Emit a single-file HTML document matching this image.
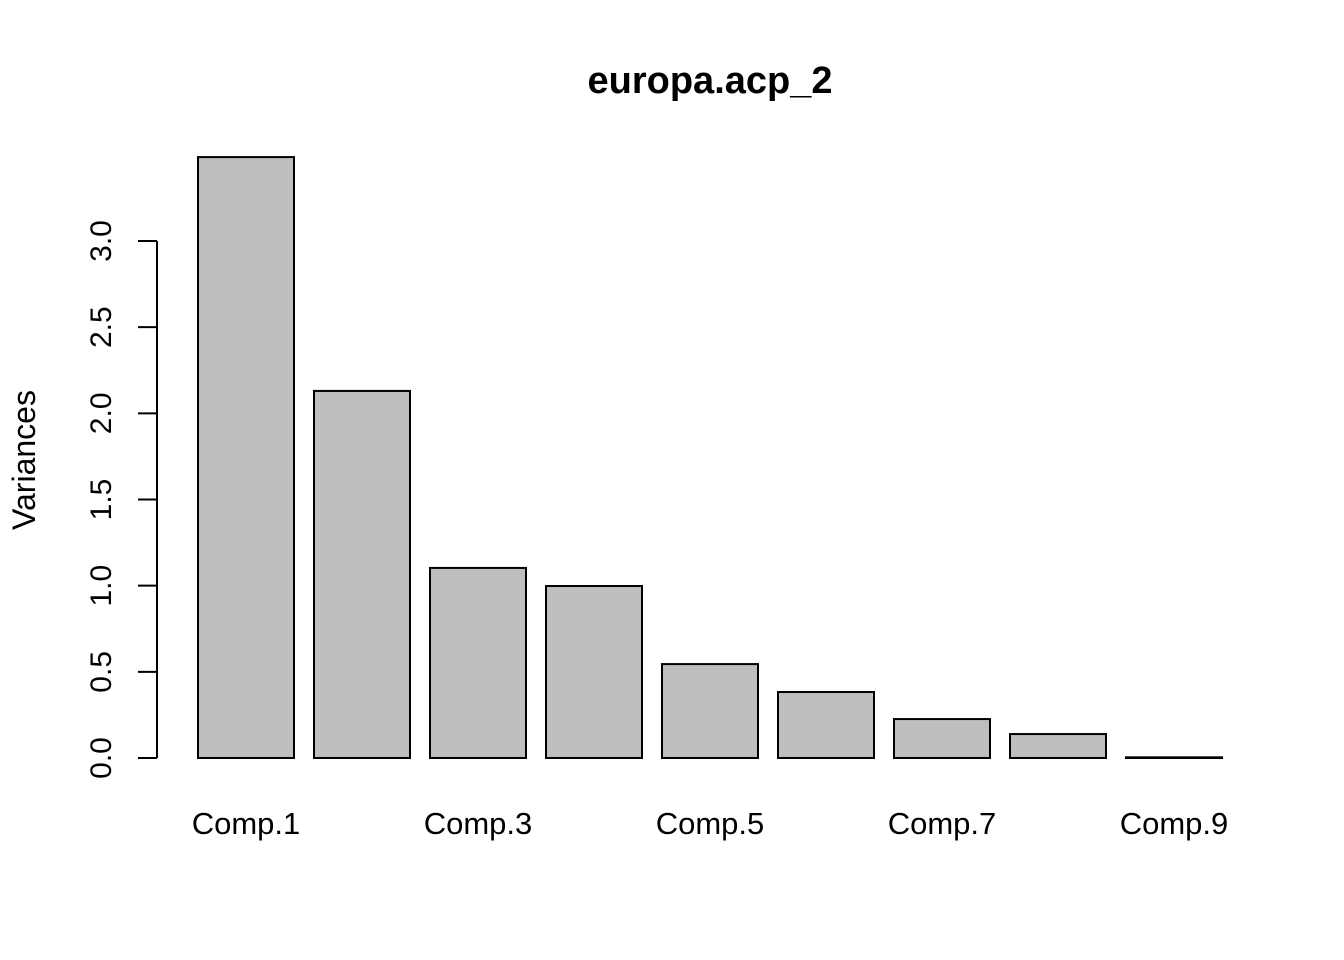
<!DOCTYPE html>
<html><head><meta charset="utf-8"><style>
html,body{margin:0;padding:0;background:#fff;}
svg{display:block;font-family:"Liberation Sans",Arial,sans-serif;}
</style></head><body>
<svg id="chart" width="1344" height="960" viewBox="0 0 1344 960" xmlns="http://www.w3.org/2000/svg">
<text x="710" y="93" text-anchor="middle" font-size="38" font-weight="bold">europa.acp_2</text>
<text transform="translate(35,460) rotate(-90)" text-anchor="middle" font-size="32">Variances</text>
<g id="bars"></g>
<g id="yaxis"></g>
<g id="xlabels"></g>
</svg>
<script>
const categories = ["Comp.1","Comp.2","Comp.3","Comp.4","Comp.5","Comp.6","Comp.7","Comp.8","Comp.9"];
const variances = [3.487, 2.130, 1.103, 0.998, 0.545, 0.383, 0.226, 0.139, 0.004];
const yTicks = [0, 0.5, 1.0, 1.5, 2.0, 2.5, 3.0];
const yTickLabels = ["0.0","0.5","1.0","1.5","2.0","2.5","3.0"];
const shownLabels = ["Comp.1","Comp.3","Comp.5","Comp.7","Comp.9"];

const NS = "http://www.w3.org/2000/svg";
const y = v => 758 - v * 172.33;
const xLeft = i => 198 + i * 116;
const barW = 96;

const bars = document.getElementById('bars');
variances.forEach((v, i) => {
  const r = document.createElementNS(NS, 'rect');
  r.setAttribute('x', xLeft(i));
  r.setAttribute('y', y(v));
  r.setAttribute('width', barW);
  r.setAttribute('height', Math.max(0, y(0) - y(v)));
  r.setAttribute('fill', '#bebebe');
  r.setAttribute('stroke', '#000');
  r.setAttribute('stroke-width', '2');
  
  
  bars.appendChild(r);
});

const ya = document.getElementById('yaxis');
const axisLine = document.createElementNS(NS, 'line');
axisLine.setAttribute('x1', 157); axisLine.setAttribute('x2', 157);
axisLine.setAttribute('y1', y(yTicks[0])); axisLine.setAttribute('y2', y(yTicks[yTicks.length-1]));
axisLine.setAttribute('stroke', '#000'); axisLine.setAttribute('stroke-width', '2');


ya.appendChild(axisLine);
yTicks.forEach((t, i) => {
  const l = document.createElementNS(NS, 'line');
  l.setAttribute('x1', 138); l.setAttribute('x2', 157);
  l.setAttribute('y1', y(t)); l.setAttribute('y2', y(t));
  l.setAttribute('stroke', '#000'); l.setAttribute('stroke-width', '2');
  
  
  ya.appendChild(l);
  const tx = document.createElementNS(NS, 'text');
  tx.setAttribute('transform', 'translate(111,' + y(t) + ') rotate(-90)');
  tx.setAttribute('text-anchor', 'middle');
  tx.setAttribute('font-size', '30');
  tx.textContent = yTickLabels[i];
  
  
  ya.appendChild(tx);
});

const xl = document.getElementById('xlabels');
categories.forEach((c, i) => {
  if (!shownLabels.includes(c)) return;
  const tx = document.createElementNS(NS, 'text');
  tx.setAttribute('x', xLeft(i) + barW / 2);
  tx.setAttribute('y', 834);
  tx.setAttribute('text-anchor', 'middle');
  tx.setAttribute('font-size', '31');
  tx.textContent = c;
  
  
  xl.appendChild(tx);
});
</script>
</body></html>
